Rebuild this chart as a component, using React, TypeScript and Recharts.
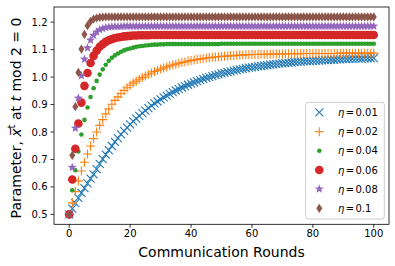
import React from 'react';
import { ScatterChart, Scatter, XAxis, YAxis } from 'recharts';

// Parameter value at each communication round (index = round)
const eta001 = [
  0.500, 0.521, 0.541, 0.560, 0.578, 0.596, 0.613, 0.630, 0.646, 0.665,
  0.684, 0.701, 0.718, 0.734, 0.749, 0.764, 0.778, 0.791, 0.804, 0.816,
  0.828, 0.839, 0.849, 0.859, 0.869, 0.878, 0.887, 0.896, 0.904, 0.911,
  0.919, 0.926, 0.932, 0.939, 0.945, 0.951, 0.956, 0.962, 0.967, 0.972,
  0.976, 0.981, 0.985, 0.989, 0.993, 0.997, 1.000, 1.003, 1.007, 1.010,
  1.013, 1.015, 1.018, 1.021, 1.023, 1.025, 1.028, 1.030, 1.032, 1.034,
  1.035, 1.037, 1.039, 1.040, 1.042, 1.043, 1.045, 1.046, 1.047, 1.049,
  1.050, 1.051, 1.052, 1.053, 1.054, 1.055, 1.056, 1.057, 1.058, 1.058,
  1.059, 1.060, 1.060, 1.061, 1.062, 1.062, 1.063, 1.063, 1.064, 1.064,
  1.065, 1.065, 1.066, 1.066, 1.067, 1.067, 1.067, 1.068, 1.068, 1.068,
  1.069,
];

const eta002 = [
  0.500, 0.542, 0.583, 0.622, 0.658, 0.690, 0.720, 0.749, 0.776, 0.800,
  0.824, 0.845, 0.866, 0.884, 0.901, 0.915, 0.928, 0.940, 0.951, 0.961,
  0.970, 0.978, 0.985, 0.992, 0.998, 1.004, 1.010, 1.015, 1.020, 1.025,
  1.029, 1.033, 1.037, 1.041, 1.044, 1.047, 1.050, 1.053, 1.055, 1.058,
  1.060, 1.062, 1.064, 1.066, 1.067, 1.069, 1.071, 1.072, 1.073, 1.074,
  1.075, 1.076, 1.077, 1.078, 1.078, 1.079, 1.080, 1.080, 1.081, 1.081,
  1.082, 1.082, 1.082, 1.083, 1.083, 1.083, 1.084, 1.084, 1.084, 1.084,
  1.084, 1.085, 1.085, 1.085, 1.085, 1.085, 1.085, 1.086, 1.086, 1.086,
  1.086, 1.086, 1.086, 1.086, 1.086, 1.086, 1.086, 1.086, 1.086, 1.087,
  1.087, 1.087, 1.087, 1.087, 1.087, 1.087, 1.087, 1.087, 1.087, 1.087,
  1.087,
];

const eta004 = [
  0.500, 0.588, 0.661, 0.729, 0.791, 0.844, 0.889, 0.927, 0.959, 0.986,
  1.009, 1.028, 1.045, 1.059, 1.070, 1.079, 1.086, 1.092, 1.097, 1.101,
  1.104, 1.107, 1.110, 1.112, 1.113, 1.115, 1.116, 1.117, 1.118, 1.118,
  1.119, 1.119, 1.120, 1.120, 1.120, 1.120, 1.120, 1.120, 1.120, 1.120,
  1.120, 1.120, 1.120, 1.120, 1.120, 1.120, 1.120, 1.120, 1.120, 1.120,
  1.121, 1.121, 1.121, 1.121, 1.121, 1.121, 1.121, 1.121, 1.121, 1.121,
  1.121, 1.121, 1.121, 1.121, 1.121, 1.121, 1.121, 1.121, 1.121, 1.121,
  1.121, 1.121, 1.121, 1.121, 1.121, 1.121, 1.121, 1.121, 1.121, 1.121,
  1.121, 1.121, 1.121, 1.121, 1.121, 1.121, 1.121, 1.121, 1.121, 1.121,
  1.121, 1.121, 1.121, 1.121, 1.121, 1.121, 1.121, 1.121, 1.121, 1.121,
  1.121,
];

const eta006 = [
  0.500, 0.627, 0.739, 0.831, 0.907, 0.968, 1.015, 1.051, 1.077, 1.096,
  1.110, 1.120, 1.128, 1.134, 1.138, 1.142, 1.144, 1.146, 1.148, 1.149,
  1.150, 1.151, 1.151, 1.152, 1.152, 1.152, 1.152, 1.153, 1.153, 1.153,
  1.153, 1.153, 1.153, 1.153, 1.153, 1.153, 1.153, 1.153, 1.153, 1.153,
  1.153, 1.153, 1.153, 1.153, 1.153, 1.153, 1.153, 1.153, 1.153, 1.153,
  1.153, 1.153, 1.153, 1.153, 1.153, 1.153, 1.153, 1.153, 1.153, 1.153,
  1.153, 1.153, 1.153, 1.153, 1.153, 1.153, 1.153, 1.153, 1.153, 1.153,
  1.153, 1.153, 1.153, 1.153, 1.153, 1.153, 1.153, 1.153, 1.153, 1.153,
  1.153, 1.153, 1.153, 1.153, 1.153, 1.153, 1.153, 1.153, 1.153, 1.153,
  1.153, 1.153, 1.153, 1.153, 1.153, 1.153, 1.153, 1.153, 1.153, 1.153,
  1.153,
];

const eta008 = [
  0.500, 0.671, 0.814, 0.923, 1.005, 1.065, 1.106, 1.134, 1.152, 1.164,
  1.172, 1.177, 1.180, 1.182, 1.183, 1.184, 1.184, 1.184, 1.185, 1.185,
  1.185, 1.185, 1.185, 1.185, 1.185, 1.185, 1.185, 1.185, 1.185, 1.185,
  1.185, 1.185, 1.185, 1.185, 1.185, 1.185, 1.185, 1.185, 1.185, 1.185,
  1.185, 1.185, 1.185, 1.185, 1.185, 1.185, 1.185, 1.185, 1.185, 1.185,
  1.185, 1.185, 1.185, 1.185, 1.185, 1.185, 1.185, 1.185, 1.185, 1.185,
  1.185, 1.185, 1.185, 1.185, 1.185, 1.185, 1.185, 1.185, 1.185, 1.185,
  1.185, 1.185, 1.185, 1.185, 1.185, 1.185, 1.185, 1.185, 1.185, 1.185,
  1.185, 1.185, 1.185, 1.185, 1.185, 1.185, 1.185, 1.185, 1.185, 1.185,
  1.185, 1.185, 1.185, 1.185, 1.185, 1.185, 1.185, 1.185, 1.185, 1.185,
  1.185,
];

const eta010 = [
  0.500, 0.715, 0.892, 1.017, 1.102, 1.155, 1.187, 1.203, 1.211, 1.215,
  1.217, 1.218, 1.219, 1.219, 1.219, 1.219, 1.219, 1.219, 1.219, 1.219,
  1.219, 1.219, 1.219, 1.219, 1.219, 1.219, 1.219, 1.219, 1.219, 1.219,
  1.219, 1.219, 1.219, 1.219, 1.219, 1.219, 1.219, 1.219, 1.219, 1.219,
  1.219, 1.219, 1.219, 1.219, 1.219, 1.219, 1.219, 1.219, 1.219, 1.219,
  1.219, 1.219, 1.219, 1.219, 1.219, 1.219, 1.219, 1.219, 1.219, 1.219,
  1.219, 1.219, 1.219, 1.219, 1.219, 1.219, 1.219, 1.219, 1.219, 1.219,
  1.219, 1.219, 1.219, 1.219, 1.219, 1.219, 1.219, 1.219, 1.219, 1.219,
  1.219, 1.219, 1.219, 1.219, 1.219, 1.219, 1.219, 1.219, 1.219, 1.219,
  1.219, 1.219, 1.219, 1.219, 1.219, 1.219, 1.219, 1.219, 1.219, 1.219,
  1.219,
];

const xTicks = [0, 20, 40, 60, 80, 100];
const yTicks = [0.5, 0.6, 0.7, 0.8, 0.9, 1.0, 1.1, 1.2];
const etaLabels = ['0.01', '0.02', '0.04', '0.06', '0.08', '0.1'];
const colors = ['#1f77b4', '#ff7f0e', '#2ca02c', '#d62728', '#9467bd', '#8c564b'];
const markerKinds = ['x', 'plus', 'dot', 'circle', 'star', 'diamond'];
const seriesValues = [eta001, eta002, eta004, eta006, eta008, eta010];

const FONT = 'DejaVu Sans, Liberation Sans, sans-serif';

const toPoints = (vals: number[]) => vals.map((v, i) => ({ x: i, y: v }));

function starPoints(cx: number, cy: number, ro: number, ri: number) {
  const pts: string[] = [];
  for (let k = 0; k < 10; k++) {
    const a = (-90 + k * 36) * Math.PI / 180;
    const r = k % 2 === 0 ? ro : ri;
    pts.push(`${cx + r * Math.cos(a)},${cy + r * Math.sin(a)}`);
  }
  return pts.join(' ');
}

function Marker({ kind, cx, cy, color }: { kind: string; cx: number; cy: number; color: string }) {
  if (cx == null || cy == null || isNaN(cx) || isNaN(cy)) return null;
  switch (kind) {
    case 'x':
      return (
        <g stroke={color} strokeWidth={1.1}>
          <line x1={cx - 4} y1={cy - 4} x2={cx + 4} y2={cy + 4} />
          <line x1={cx - 4} y1={cy + 4} x2={cx + 4} y2={cy - 4} />
        </g>
      );
    case 'plus':
      return (
        <g stroke={color} strokeWidth={1.1}>
          <line x1={cx - 4.5} y1={cy} x2={cx + 4.5} y2={cy} />
          <line x1={cx} y1={cy - 4.5} x2={cx} y2={cy + 4.5} />
        </g>
      );
    case 'dot':
      return <circle cx={cx} cy={cy} r={2.3} fill={color} />;
    case 'circle':
      return <circle cx={cx} cy={cy} r={4.3} fill={color} />;
    case 'star':
      return <polygon points={starPoints(cx, cy, 4.7, 2.0)} fill={color} />;
    case 'diamond':
      return (
        <polygon
          points={`${cx},${cy - 4.6} ${cx + 3},${cy} ${cx},${cy + 4.6} ${cx - 3},${cy}`}
          fill={color}
        />
      );
    default:
      return null;
  }
}

const PLOT_LEFT = 54;
const PLOT_TOP = 7;
const PLOT_RIGHT = 389;
const PLOT_BOTTOM = 224.3;

export default function App() {
  const legendRows = [112.3, 131.7, 150.7, 170, 189, 208.3];
  return (
    <div style={{ position: 'absolute', left: 0, top: 0, width: 395, height: 266, background: '#fff', fontFamily: FONT }}>
      <ScatterChart
        width={395}
        height={266}
        margin={{ top: PLOT_TOP, right: 395 - PLOT_RIGHT, left: 0, bottom: 0 }}
      >
        <XAxis
          type="number"
          dataKey="x"
          domain={[-5, 105]}
          ticks={xTicks}
          height={266 - PLOT_BOTTOM}
          axisLine={false}
          tickLine={{ stroke: '#000', strokeWidth: 0.8 }}
          tickSize={3.5}
          tickMargin={2}
          allowDataOverflow
          tick={{ fontSize: 10, fill: '#000', fontFamily: FONT }}
        />
        <YAxis
          type="number"
          dataKey="y"
          domain={[0.464, 1.255]}
          ticks={yTicks}
          width={PLOT_LEFT}
          axisLine={false}
          tickLine={{ stroke: '#000', strokeWidth: 0.8 }}
          tickSize={3.5}
          tickMargin={3}
          allowDataOverflow
          tickFormatter={(v: number) => v.toFixed(1)}
          tick={{ fontSize: 10, fill: '#000', fontFamily: FONT }}
        />
        {seriesValues.map((vals, i) => (
          <Scatter
            key={etaLabels[i]}
            name={`η = ${etaLabels[i]}`}
            data={toPoints(vals)}
            isAnimationActive={false}
            fill={colors[i]}
            shape={(p: any) => <Marker kind={markerKinds[i]} cx={p.cx} cy={p.cy} color={colors[i]} />}
          />
        ))}
      </ScatterChart>
      <svg
        width={395}
        height={266}
        style={{ position: 'absolute', left: 0, top: 0, pointerEvents: 'none' }}
      >
        <rect
          x={PLOT_LEFT}
          y={PLOT_TOP}
          width={PLOT_RIGHT - PLOT_LEFT}
          height={PLOT_BOTTOM - PLOT_TOP}
          fill="none"
          stroke="#000"
          strokeWidth={0.8}
        />
        <g>
          <rect
            x={305.7}
            y={102.3}
            width={78.6}
            height={116.7}
            rx={2.5}
            fill="#fff"
            fillOpacity={0.8}
            stroke="#cccccc"
            strokeWidth={1}
          />
          {legendRows.map((yc, i) => (
            <g key={etaLabels[i]}>
              <Marker kind={markerKinds[i]} cx={319.3} cy={yc} color={colors[i]} />
              <text y={yc + 3.6} fontSize={10} fontFamily={FONT} fill="#000">
                <tspan x={338} fontStyle="italic">η</tspan>
                <tspan x={345.8}>=</tspan>
                <tspan x={355.5}>{etaLabels[i]}</tspan>
              </text>
            </g>
          ))}
        </g>
        <text
          x={(PLOT_LEFT + PLOT_RIGHT) / 2}
          y={257}
          textAnchor="middle"
          fontSize={14}
          fontFamily={FONT}
          fill="#000"
        >
          Communication Rounds
        </text>
        <text
          transform="translate(20.5,118) rotate(-90)"
          textAnchor="middle"
          fontSize={14}
          fontFamily={FONT}
          fill="#000"
        >
          {'Parameter, '}
          <tspan fontStyle="italic">{'x\u0305'}</tspan>
          <tspan fontSize={10} dy={-5.5}>t</tspan>
          <tspan dy={5.5}>{' at '}</tspan>
          <tspan fontStyle="italic">t</tspan>
          {' mod 2 = 0'}
        </text>
      </svg>
    </div>
  );
}
